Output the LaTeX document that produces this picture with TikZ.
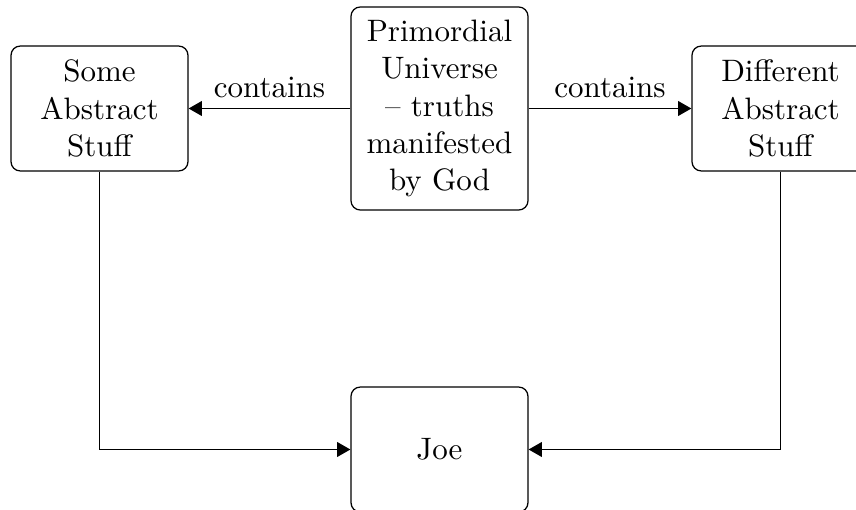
\documentclass[tikz,border=0pt]{standalone}
\usetikzlibrary{arrows.meta}
\begin{document}
\begin{tikzpicture}[x=0.3226pt, y=-0.3226pt,
  box/.style={draw, rounded corners=3pt, align=center, minimum width=57.1pt, minimum height=40.3pt, inner sep=3.33pt},
  tallbox/.style={box, minimum height=65.5pt},
  link/.style={-{Triangle[length=4.3pt, width=4.8pt]}}]
  \clip (0,0) rectangle (856,510);
  \node[box] (some) at (99.5,108.5) {Some\\Abstract\\Stuff};
  \node[tallbox] (prim) at (439.5,108.5) {Primordial\\Universe\\-- truths\\manifested\\by God};
  \node[box] (diff) at (780.5,108.5) {Different\\Abstract\\Stuff};
  \node[box] (joe) at (439.5,449.5) {Joe};
  \draw[link] (prim.west) -- node[above] {contains} (some.east);
  \draw[link] (prim.east) -- node[above] {contains} (diff.west);
  \draw[link] (some.south) |- (joe.west);
  \draw[link] (diff.south) |- (joe.east);
\end{tikzpicture}
\end{document}
